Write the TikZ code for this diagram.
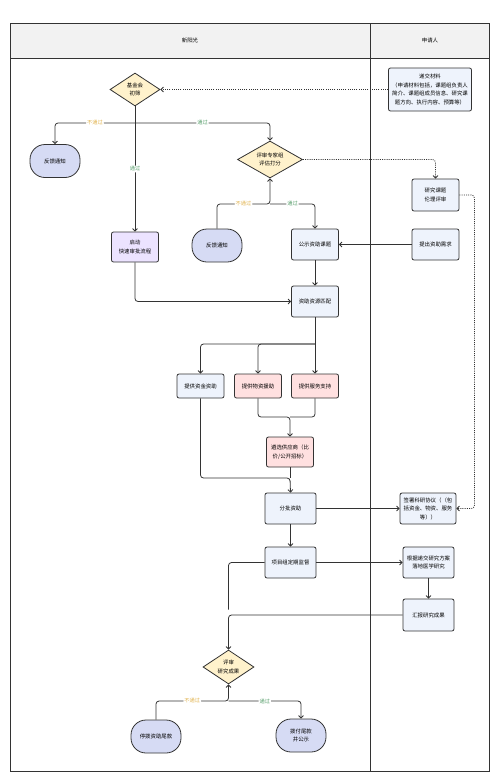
\documentclass[tikz,border=0pt]{standalone}
\usepackage{fontspec}
\setmainfont{Noto Sans CJK SC}
\usepackage{tikz}
\definecolor{edgec}{RGB}{51, 51, 51}
\definecolor{hdrc}{RGB}{242, 242, 242}
\definecolor{decc}{RGB}{255, 242, 204}
\definecolor{termc}{RGB}{214, 219, 244}
\definecolor{boxc}{RGB}{238, 243, 252}
\definecolor{fastc}{RGB}{236, 227, 255}
\definecolor{pinkc}{RGB}{255, 224, 224}
\definecolor{failc}{RGB}{226, 180, 80}
\definecolor{passc}{RGB}{90, 160, 110}
\usetikzlibrary{arrows.meta, shapes.geometric, calc}

\begin{document}
\begin{tikzpicture}[x=1pt, y=-1pt, font=\fontsize{5.4}{8.5}\selectfont,
  frame/.style={draw=edgec, line width=0.9pt},
  box/.style={draw=edgec, fill=boxc, rounded corners=2pt, line width=0.8pt,
              minimum width=47, minimum height=31, align=center, inner sep=1pt},
  pinkbox/.style={box, fill=pinkc},
  fastbox/.style={box, fill=fastc, minimum height=30},
  term/.style={draw=edgec, fill=termc, rounded corners=15pt, line width=0.8pt,
               minimum width=50, minimum height=33, align=center, inner sep=1pt},
  dec/.style={draw=edgec, fill=decc, diamond, shape aspect=2, line width=0.8pt,
              minimum width=50, minimum height=33, align=center, inner sep=0pt},
  line/.style={draw=edgec, line width=0.8pt, rounded corners=3pt},
  arr/.style={line, -{Straight Barb[length=2.5pt, width=5pt]}},
  dotarr/.style={arr, dash pattern=on 1pt off 1.2pt},
  lbl/.style={fill=white, inner sep=1pt, font=\fontsize{5.2}{6}\selectfont},
  faillbl/.style={lbl, text=failc},
  passlbl/.style={lbl, text=passc}]
  \useasboundingbox (0,0) rectangle (500,782);

  % Lanes
  \draw[frame, fill=hdrc] (10,23) rectangle (489,58);
  \draw[frame] (10,23) rectangle (489,771);
  \draw[frame] (370,23) -- (370,771);
  \node (lane1) at (190,40.5) {新阳光};
  \node (lane2) at (430,40.5) {申请人};

  % Foundation
  \node[dec] (screen) at (135,89.5) {基金会\\初筛};
  \node[term] (fb1) at (55,161) {反馈通知};
  \node[dec, minimum width=65, minimum height=37] (panel) at (270,159.5) {评审专家组\\评估打分};
  \node[fastbox] (fast) at (135,247) {启动\\快速审批流程};
  \node[term] (fb2) at (217,245.5) {反馈通知};
  \node[box] (pub) at (315,244.5) {公示资助课题};
  \node[box] (match) at (315,301.5) {资助资源匹配};
  \node[box, minimum height=24] (fund) at (200.5,386) {提供资金资助};
  \node[pinkbox, minimum height=24] (goods) at (258,386) {提供物资援助};
  \node[pinkbox, minimum height=24] (serv) at (315,386) {提供服务支持};
  \node[pinkbox, minimum height=30] (vend) at (290,452) {遴选供应商（比\\价/公开招标）};
  \node[box, minimum width=51] (batch) at (290.5,508.5) {分批资助};
  \node[box, minimum width=51] (mon) at (290.5,562.5) {项目组定期监督};
  \node[dec, minimum width=51, minimum height=34] (eval) at (228.5,667) {评审\\研究成果};
  \node[term] (stop) at (156,736.5) {停拨资助尾款};
  \node[term] (pay) at (301,735.5) {拨付尾款\\并公示};

  % Applicant
  \node[box, minimum width=83, minimum height=43] (submit) at (430,89.5)
    {递交材料\\（申请材料包括，课题组负责人\\简介、课题组成员信息、研究课\\题方向、执行内容、预算等）};
  \node[box, minimum height=32] (ethic) at (435.5,195) {研究课题\\伦理评审};
  \node[box] (need) at (435.5,244.5) {提出资助需求};
  \node[box, minimum width=56] (sign) at (428,508.5) {签署科研协议（（包\\括资金、物资、服务\\等））};
  \node[box, minimum width=51] (res) at (428.5,562.5) {根据递交研究方案\\落地医学研究};
  \node[box, minimum width=51, minimum height=32] (rep) at (428.5,615) {汇报研究成果};

  % Junctions
  \coordinate (j1) at (135,123);
  \coordinate (j2) at (270,204);
  \coordinate (j3) at (315,344);
  \coordinate (j4) at (290,417);
  \coordinate (j5) at (290,478);
  \coordinate (j6) at (228.5,701);

  % Screening
  \draw[dotarr] (submit.west) -- (screen.east);
  \draw[line] (screen.south) -- (j1);
  \draw[arr] (j1) -| node[pos=0.25, faillbl]{不通过} (fb1.north);
  \draw[arr] (j1) -| node[pos=0.25, passlbl]{通过} (panel.north);
  \draw[arr] (screen.south) -- (fast.north) node[midway, passlbl]{通过};
  % Panel review
  \draw[dotarr] (panel.east) -| (ethic.north);
  \draw[dotarr] (ethic.east) -- ++(15,0) |- (sign.east);
  \draw[arr] (fb2.north) |- node[pos=0.75, faillbl]{不通过} (j2) -- (panel.south);
  \draw[arr] (j2) -| node[pos=0.25, passlbl]{通过} (pub.north);
  \draw[arr] (need.west) -- (pub.east);
  \draw[arr] (pub.south) -- (match.north);
  \draw[arr] (fast.south) |- (match.west);
  % Support
  \draw[arr] (match.south) -- (serv.north);
  \draw[arr] (j3) -| (goods.north);
  \draw[arr] (j3) -| (fund.north);
  \draw[line] (serv.south) |- (j4);
  \draw[arr] (goods.south) |- (j4) -- (vend.north);
  \draw[arr] (fund.south) |- (j5) -- (batch.north);
  \draw[line] (vend.south) -- (j5);
  \draw[arr] (batch.east) -- (sign.west);
  \draw[arr] (batch.south) -- (mon.north);
  \draw[arr] (mon.east) -- (res.west);
  \draw[arr] (res.south) -- (rep.north);
  % Results
  \draw[arr] (rep.west) -| (eval.north);
  \draw[line] (mon.west) -| ($(eval.north)+(0,-40)$);
  \draw[arr] (stop.north) |- node[pos=0.75, faillbl]{不通过} (j6) -- (eval.south);
  \draw[arr] (j6) -| node[pos=0.25, passlbl]{通过} (pay.north);
\end{tikzpicture}
\end{document}
